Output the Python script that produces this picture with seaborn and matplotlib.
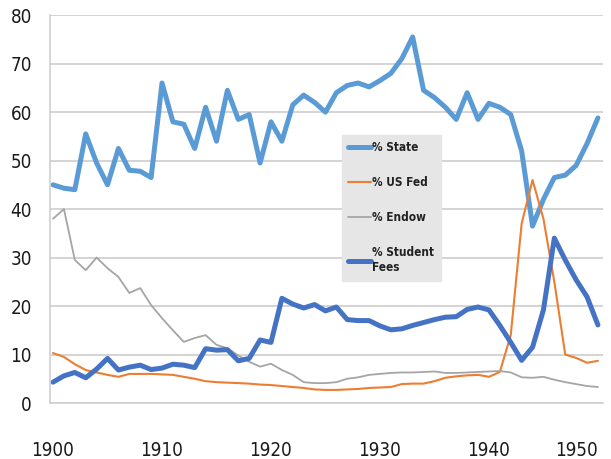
import matplotlib
matplotlib.use('Agg')
import matplotlib.pyplot as plt
import seaborn as sns

sns.set_theme(style='white')
plt.rcParams['font.family'] = ['DejaVu Sans']
plt.rcParams['font.stretch'] = 'condensed'

years = list(range(1900, 1951))

state = [45, 44.3, 44, 55.5, 49.5, 45, 52.5, 48, 47.8, 46.5,
         66, 58, 57.5, 52.5, 61, 54, 64.5, 58.5, 59.5, 49.5,
         58, 54, 61.5, 63.5, 62, 60, 64, 65.5, 66, 65.2,
         66.5, 68, 71, 75.5, 64.5, 63, 61, 58.5, 64, 58.5,
         61.8, 61, 59.5, 52, 36.5, 42, 46.5, 47, 49, 53.5, 58.8]

us_fed = [10.3, 9.5, 8.0, 6.8, 6.3, 5.8, 5.4, 6.0, 6.0, 6.0,
          5.9, 5.8, 5.4, 5.0, 4.5, 4.3, 4.2, 4.1, 4.0, 3.8,
          3.7, 3.5, 3.3, 3.1, 2.8, 2.7, 2.7, 2.8, 2.9, 3.1,
          3.2, 3.3, 3.9, 4.0, 4.0, 4.5, 5.2, 5.5, 5.7, 5.8,
          5.4, 6.4, 14, 37, 46, 38, 25, 10, 9.3, 8.3, 8.7]

endow = [38, 40, 29.5, 27.4, 30, 27.8, 26, 22.7, 23.7, 20.2,
         17.5, 15, 12.6, 13.4, 14, 12, 11.3, 9.8, 8.5, 7.5,
         8.1, 6.8, 5.8, 4.3, 4.1, 4.1, 4.3, 5.0, 5.3, 5.8,
         6.0, 6.2, 6.3, 6.3, 6.4, 6.5, 6.2, 6.2, 6.3, 6.4,
         6.5, 6.6, 6.3, 5.3, 5.2, 5.4, 4.8, 4.3, 3.9, 3.5, 3.3]

student_fees = [4.3, 5.6, 6.3, 5.2, 7.0, 9.2, 6.8, 7.4, 7.8, 6.9,
                7.2, 8.0, 7.8, 7.3, 11.2, 10.9, 11.0, 8.7, 9.2, 13,
                12.5, 21.6, 20.4, 19.6, 20.3, 19.0, 19.8, 17.2, 17.0, 17.0,
                15.9, 15.1, 15.3, 16.0, 16.6, 17.2, 17.7, 17.8, 19.3, 19.8,
                19.2, 16.0, 12.5, 8.8, 11.5, 19.2, 34, 29.5, 25.4, 21.9, 16.1]

fig = plt.figure(figsize=(6.11, 4.59), dpi=100)
ax = fig.add_axes([0.0818, 0.122, 0.905, 0.845])

sns.lineplot(x=years, y=state, color='#5b9bd5', lw=3.6, label='% State', ax=ax)
sns.lineplot(x=years, y=us_fed, color='#ed7d31', lw=1.5, label='% US Fed', ax=ax)
sns.lineplot(x=years, y=endow, color='#a5a5a5', lw=1.3, label='% Endow', ax=ax)
sns.lineplot(x=years, y=student_fees, color='#4472c4', lw=3.6, label='% Student\nFees', ax=ax)

ax.set_xlim(1899.72, 1950.46)
ax.set_ylim(0, 80)
ax.set_yticks(range(0, 81, 10))
ax.set_xticks(range(1900, 1951, 10))
ax.set_xticks(range(1905, 1951, 5), minor=True)
ax.grid(axis='y', color='#d4d4d4', lw=1.4)
ax.set_axisbelow(True)

for side in ['top', 'right']:
    ax.spines[side].set_visible(False)
for side in ['left', 'bottom']:
    ax.spines[side].set_color('#d0d0d0')
    ax.spines[side].set_linewidth(1.2)

ax.tick_params(axis='y', length=3, color='#d0d0d0', pad=10, labelsize=13.5, labelcolor='#1a1a1a')
ax.tick_params(axis='x', which='major', length=0, pad=27, labelsize=13.5, labelcolor='#1a1a1a')
ax.tick_params(axis='x', which='minor', length=4, color='#d0d0d0', direction='out')
# keep the last year label inside the picture
ax.get_xticklabels()[-1].set_horizontalalignment('right')
ax.get_xticklabels()[-1].set_x(1950.4)

leg = ax.legend(loc='upper left', bbox_to_anchor=(0.528, 0.691), fontsize=8.5,
                frameon=True, fancybox=False, framealpha=1, facecolor='#e6e6e6',
                edgecolor='#e6e6e6', handlelength=1.9, handletextpad=0.1,
                labelspacing=1.85, borderpad=0.55, borderaxespad=0)
for t in leg.get_texts():
    t.set_fontweight('semibold')
    t.set_color('#222222')

fig.savefig('out.png', dpi=100)
